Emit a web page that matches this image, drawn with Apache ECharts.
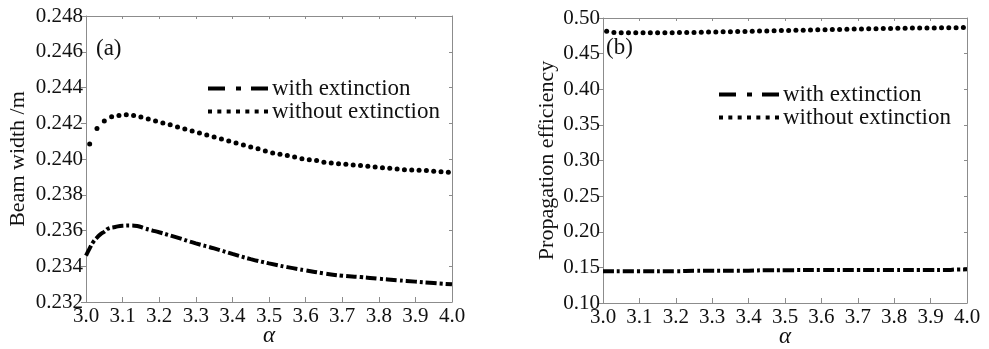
<!DOCTYPE html>
<html><head><meta charset="utf-8">
<script src="https://cdn.jsdelivr.net/npm/echarts@6/dist/echarts.min.js"></script>
<style>html,body{margin:0;padding:0;background:#fff}#c{width:989px;height:349px}</style>
</head><body><div id="c"></div>
<script>
// ---- Data ----
// Panel (a): beam width (m)
const a_withX = [3.00,3.01,3.02,3.03,3.04,3.05,3.06,3.08,3.10,3.12,3.14,3.16,3.18,3.20,3.25,3.30,3.35,3.40,3.45,3.50,3.55,3.60,3.65,3.70,3.75,3.80,3.85,3.90,3.95,4.00];
const a_withY = [0.2346,0.2350,0.23537,0.2356,0.2358,0.23593,0.2361,0.2362,0.23627,0.23628,0.23625,0.23612,0.23601,0.2359,0.2356,0.23528,0.2350,0.23469,0.2344,0.23416,0.23395,0.23377,0.23360,0.23347,0.23340,0.2333,0.23322,0.23314,0.23306,0.23299];
const a_withoutX = [3.01,3.03,3.05,3.07,3.09,3.11,3.13,3.15,3.17,3.19,3.21,3.23,3.25,3.27,3.29,3.31,3.33,3.35,3.37,3.39,3.41,3.43,3.45,3.47,3.49,3.51,3.53,3.55,3.57,3.59,3.61,3.63,3.65,3.67,3.69,3.71,3.73,3.75,3.77,3.79,3.81,3.83,3.85,3.87,3.89,3.91,3.93,3.95,3.97,3.99];
const a_withoutY = [0.24084,0.24170,0.24213,0.24237,0.24244,0.24248,0.24244,0.24235,0.24224,0.24213,0.24201,0.24192,0.24179,0.24168,0.24157,0.24145,0.24134,0.24123,0.24112,0.24101,0.24090,0.24078,0.24067,0.24057,0.24045,0.24034,0.24027,0.24019,0.24011,0.24002,0.23996,0.23991,0.23982,0.23978,0.23974,0.23970,0.23966,0.23963,0.23959,0.23955,0.23951,0.23948,0.23944,0.23940,0.23939,0.23937,0.23935,0.23931,0.23929,0.23926];
// Panel (b): propagation efficiency
const b_withX = [3.00,3.10,3.20,3.25,3.30,3.40,3.45,3.50,3.60,3.70,3.80,3.90,3.95,3.97,4.00];
const b_withY = [0.1447,0.1446,0.1446,0.1452,0.1453,0.1454,0.1460,0.1461,0.1462,0.1462,0.1462,0.1463,0.1464,0.1471,0.1472];
const b_withoutX = a_withoutX;
const b_withoutY = [0.4815,0.4796,0.4793,0.4792,0.4792,0.4792,0.4792,0.4793,0.4793,0.4794,0.4795,0.4796,0.4798,0.4800,0.4802,0.4804,0.4806,0.4808,0.4810,0.4812,0.4814,0.4816,0.4818,0.4820,0.4823,0.4825,0.4827,0.4829,0.4831,0.4834,0.4836,0.4838,0.4840,0.4842,0.4844,0.4846,0.4848,0.4850,0.4852,0.4854,0.4856,0.4857,0.4858,0.4859,0.4860,0.4861,0.4862,0.4863,0.4864,0.4865];
const seriesNames = ['with extinction','without extinction'];
const panelLabels = ['(a)','(b)'];
const yNames = ['Beam width /m','Propagation efficiency'];
const xName = 'α';

const zip = (xs, ys) => xs.map((x, i) => [x, ys[i]]);
const FONT = 'Liberation Serif';
const FRAME = '#8c8c8c';
const TXT = '#111';

const chart = echarts.init(document.getElementById('c'), null, {renderer: 'canvas'});

function xAx(grid, pos) {
  const bottom = pos === 'bottom';
  return {
    type: 'value', gridIndex: grid, position: pos, min: 3, max: 4, interval: 0.1,
    name: bottom ? xName : '', nameLocation: 'middle', nameGap: 22, nameMoveOverlap: false,
    nameTextStyle: {fontFamily: FONT, fontStyle: 'italic', fontSize: 23, color: TXT},
    axisLine: {show: true, onZero: false, lineStyle: {color: FRAME, width: 1}},
    axisTick: {show: true, inside: true, length: bottom ? 5 : 3, lineStyle: {color: FRAME}},
    axisLabel: {show: bottom, fontFamily: FONT, fontSize: 21, color: TXT, margin: 4,
      formatter: v => v.toFixed(1)},
    splitLine: {show: false}
  };
}
function yAx(grid, pos, min, max, interval, dec, name, gap) {
  const left = pos === 'left';
  return {
    type: 'value', gridIndex: grid, position: pos, min: min, max: max, interval: interval,
    name: left ? name : '', nameLocation: 'middle', nameGap: gap, nameRotate: 90, nameMoveOverlap: false,
    nameTextStyle: {fontFamily: FONT, fontSize: 22, color: TXT},
    axisLine: {show: true, onZero: false, lineStyle: {color: FRAME, width: 1}},
    axisTick: {show: true, inside: !left, length: left ? 5 : 3, lineStyle: {color: FRAME}},
    axisLabel: {show: left, fontFamily: FONT, fontSize: 21, color: TXT, margin: 3,
      formatter: v => v.toFixed(dec)},
    splitLine: {show: false}
  };
}

const dashDotIcon = 'path://M0,0h17v4h-17z M28,0h5v4h-5z M43,0h17v4h-17z';
const dotsIcon = 'path://M0,0h4v4h-4z M9.33,0h4v4h-4z M18.67,0h4v4h-4z M28,0h4v4h-4z M37.33,0h4v4h-4z M46.67,0h4v4h-4z M56,0h4v4h-4z';

function legend(left, top, gap) {
  return {
    orient: 'vertical', left: left, top: top, itemGap: gap, itemWidth: 60, itemHeight: 4,
    symbolKeepAspect: false, selectedMode: false, padding: 0,
    itemStyle: {color: '#000', borderWidth: 0},
    textStyle: {fontFamily: FONT, fontSize: 23, color: TXT, padding: [0,0,0,-1]},
    data: [{name: seriesNames[0], icon: dashDotIcon}, {name: seriesNames[1], icon: dotsIcon}]
  };
}

function withSeries(xi, yi, data) {
  return {
    name: seriesNames[0], type: 'line', xAxisIndex: xi, yAxisIndex: yi, data: data,
    smooth: true, showSymbol: false, symbol: 'none', z: 3,
    lineStyle: {color: '#000', width: 4, type: [11, 3, 3, 3], cap: 'butt'},
    itemStyle: {color: '#000'}
  };
}
function withoutSeries(xi, yi, data) {
  return {
    name: seriesNames[1], type: 'line', xAxisIndex: xi, yAxisIndex: yi, data: data,
    showSymbol: true, symbol: 'circle', symbolSize: 5, z: 3,
    lineStyle: {width: 0, opacity: 0},
    itemStyle: {color: '#000', borderWidth: 0}
  };
}

chart.setOption({
  animation: false,
  backgroundColor: '#fff',
  grid: [
    {left: 86, right: 537, top: 16, bottom: 47, show: false, containLabel: false, outerBoundsMode: 'none'},
    {left: 603, right: 22, top: 18, bottom: 46, show: false, containLabel: false, outerBoundsMode: 'none'}
  ],
  xAxis: [xAx(0, 'bottom'), xAx(0, 'top'), xAx(1, 'bottom'), xAx(1, 'top')],
  yAxis: [
    yAx(0, 'left', 0.232, 0.248, 0.002, 3, yNames[0], 57),
    yAx(0, 'right', 0.232, 0.248, 0.002, 3, '', 0),
    yAx(1, 'left', 0.10, 0.50, 0.05, 2, yNames[1], 45),
    yAx(1, 'right', 0.10, 0.50, 0.05, 2, '', 0)
  ],
  legend: [legend(208, 77, 0), legend(719, 83, 0)],
  graphic: [
    {type: 'text', left: 96, top: 37, style: {text: panelLabels[0], font: '23px "Liberation Serif"', fill: TXT}},
    {type: 'text', left: 606, top: 36, style: {text: panelLabels[1], font: '23px "Liberation Serif"', fill: TXT}}
  ],
  series: [
    withSeries(0, 0, zip(a_withX, a_withY)),
    withoutSeries(0, 0, zip(a_withoutX, a_withoutY)),
    withSeries(2, 2, zip(b_withX, b_withY)),
    withoutSeries(2, 2, zip(b_withoutX, b_withoutY))
  ]
});
</script></body></html>
